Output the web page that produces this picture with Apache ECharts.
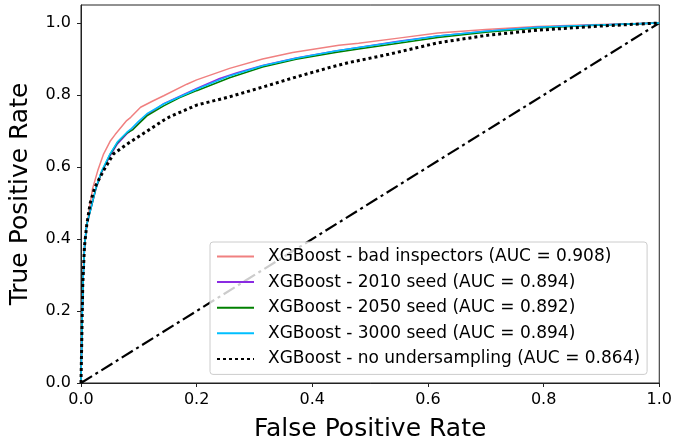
<!DOCTYPE html>
<html>
<head>
<meta charset="utf-8">
<script src="https://cdn.jsdelivr.net/npm/echarts@6/dist/echarts.min.js"></script>
<style>html,body{margin:0;padding:0;background:#fff}#c{width:675px;height:448px}</style>
</head>
<body>
<div id="c"></div>
<script>
var seriesNames = [
  'XGBoost - bad inspectors (AUC = 0.908)',
  'XGBoost - 2010 seed (AUC = 0.894)',
  'XGBoost - 2050 seed (AUC = 0.892)',
  'XGBoost - 3000 seed (AUC = 0.894)',
  'XGBoost - no undersampling (AUC = 0.864)'
];
var xTicks = [0, 0.2, 0.4, 0.6, 0.8, 1.0];
var yTicks = [0, 0.2, 0.4, 0.6, 0.8, 1.0];

var rocBad = [[0,0],[0.002,0.20],[0.004,0.33],[0.008,0.41],[0.014,0.48],[0.020,0.54],[0.029,0.59],[0.039,0.636],[0.051,0.673],[0.059,0.69],[0.079,0.729],[0.086,0.738],[0.103,0.766],[0.125,0.784],[0.143,0.798],[0.183,0.830],[0.200,0.842],[0.257,0.874],[0.314,0.900],[0.366,0.918],[0.446,0.938],[0.48,0.944],[0.549,0.958],[0.617,0.972],[0.70,0.982],[0.789,0.990],[0.88,0.995],[1,1]];
var roc2010 = [[0,0],[0.002,0.18],[0.004,0.30],[0.0065,0.39],[0.010,0.44],[0.019,0.496],[0.026,0.540],[0.036,0.586],[0.050,0.630],[0.063,0.664],[0.079,0.692],[0.090,0.706],[0.100,0.722],[0.114,0.744],[0.143,0.776],[0.200,0.818],[0.240,0.846],[0.270,0.862],[0.314,0.882],[0.372,0.903],[0.44,0.922],[0.48,0.932],[0.549,0.949],[0.617,0.964],[0.70,0.977],[0.789,0.988],[0.88,0.994],[1,1]];
var roc2050 = [[0,0],[0.002,0.18],[0.004,0.30],[0.0065,0.39],[0.010,0.44],[0.019,0.497],[0.026,0.542],[0.036,0.588],[0.050,0.634],[0.063,0.668],[0.079,0.694],[0.090,0.704],[0.100,0.720],[0.114,0.742],[0.143,0.770],[0.170,0.792],[0.200,0.812],[0.257,0.848],[0.314,0.878],[0.372,0.899],[0.44,0.918],[0.48,0.928],[0.549,0.944],[0.617,0.960],[0.70,0.974],[0.789,0.986],[0.88,0.993],[1,1]];
var roc3000 = [[0,0],[0.002,0.18],[0.004,0.30],[0.0065,0.39],[0.010,0.44],[0.019,0.498],[0.026,0.544],[0.036,0.590],[0.050,0.636],[0.063,0.670],[0.079,0.696],[0.086,0.705],[0.099,0.726],[0.114,0.748],[0.143,0.775],[0.200,0.816],[0.257,0.853],[0.314,0.881],[0.372,0.902],[0.44,0.922],[0.48,0.932],[0.549,0.948],[0.617,0.964],[0.70,0.977],[0.789,0.988],[0.88,0.994],[1,1]];
var rocNoUnder = [[0,0],[0.003,0.27],[0.006,0.38],[0.010,0.44],[0.016,0.50],[0.024,0.544],[0.039,0.590],[0.056,0.636],[0.080,0.664],[0.105,0.690],[0.143,0.730],[0.154,0.740],[0.200,0.772],[0.257,0.795],[0.314,0.822],[0.372,0.850],[0.429,0.876],[0.463,0.890],[0.532,0.913],[0.617,0.945],[0.703,0.966],[0.789,0.980],[0.903,0.992],[1,1]];
var chanceLine = [[0,0],[1,1]];

var colors = ['#f08080', '#8a2be2', '#008000', '#00bfff', '#000000'];
var font = 'DejaVu Sans';

var chart = echarts.init(document.getElementById('c'), null, {renderer: 'canvas'});
function lineSeries(name, data, color, width, type, z) {
  return {
    name: name, type: 'line', data: data, symbol: 'none', showSymbol: false,
    lineStyle: {color: color, width: width, type: type, cap: 'butt'},
    itemStyle: {color: color}, z: z, silent: true
  };
}
chart.setOption({
  animation: false,
  grid: {left: 80, right: 12, top: 5, bottom: 65, show: true, borderColor: '#222', borderWidth: 1, backgroundColor: 'transparent'},
  xAxis: {
    type: 'value', min: 0, max: 1, interval: 0.2,
    name: 'False Positive Rate', nameLocation: 'middle', nameGap: 34,
    nameTextStyle: {fontFamily: font, fontSize: 25, color: '#000'},
    axisLine: {show: true, lineStyle: {color: '#222', width: 1}},
    axisTick: {show: true, inside: false, length: 4, lineStyle: {color: '#222'}},
    axisLabel: {fontFamily: font, fontSize: 16, color: '#000', margin: 9, formatter: function(v){return v.toFixed(1);}},
    splitLine: {show: false}
  },
  yAxis: {
    type: 'value', min: 0, max: 1.05, interval: 0.2,
    name: 'True Positive Rate', nameLocation: 'middle', nameGap: 48,
    nameTextStyle: {fontFamily: font, fontSize: 25, color: '#000'},
    axisLine: {show: true, lineStyle: {color: '#222', width: 1}},
    axisTick: {show: true, inside: false, length: 4, lineStyle: {color: '#222'}, customValues: yTicks},
    axisLabel: {fontFamily: font, fontSize: 16, color: '#000', margin: 10, customValues: yTicks, formatter: function(v){return v > 1.001 ? '' : v.toFixed(1);}},
    splitLine: {show: false}
  },
  legend: {
    data: seriesNames, orient: 'vertical', left: 210, top: 242,
    width: 443, padding: [6, 7, 7, 6], itemGap: 8.6, itemWidth: 37, itemHeight: 17,
    backgroundColor: 'rgba(255,255,255,0.8)', borderColor: '#cccccc', borderWidth: 1, borderRadius: 3,
    itemStyle: {opacity: 0, borderWidth: 0},
    textStyle: {fontFamily: font, fontSize: 17, color: '#000', padding: [0,0,0,9]},
    selectedMode: false
  },
  series: [
    lineSeries('chance', chanceLine, '#000', 2.2, [13, 4, 3, 4], 1),
    lineSeries(seriesNames[0], rocBad, colors[0], 1.5, 'solid', 2),
    lineSeries(seriesNames[1], roc2010, colors[1], 1.5, 'solid', 3),
    lineSeries(seriesNames[2], roc2050, colors[2], 1.5, 'solid', 4),
    lineSeries(seriesNames[3], roc3000, colors[3], 1.5, 'solid', 5),
    lineSeries(seriesNames[4], rocNoUnder, colors[4], 3, [3, 3], 6)
  ]
});
</script>
</body>
</html>
